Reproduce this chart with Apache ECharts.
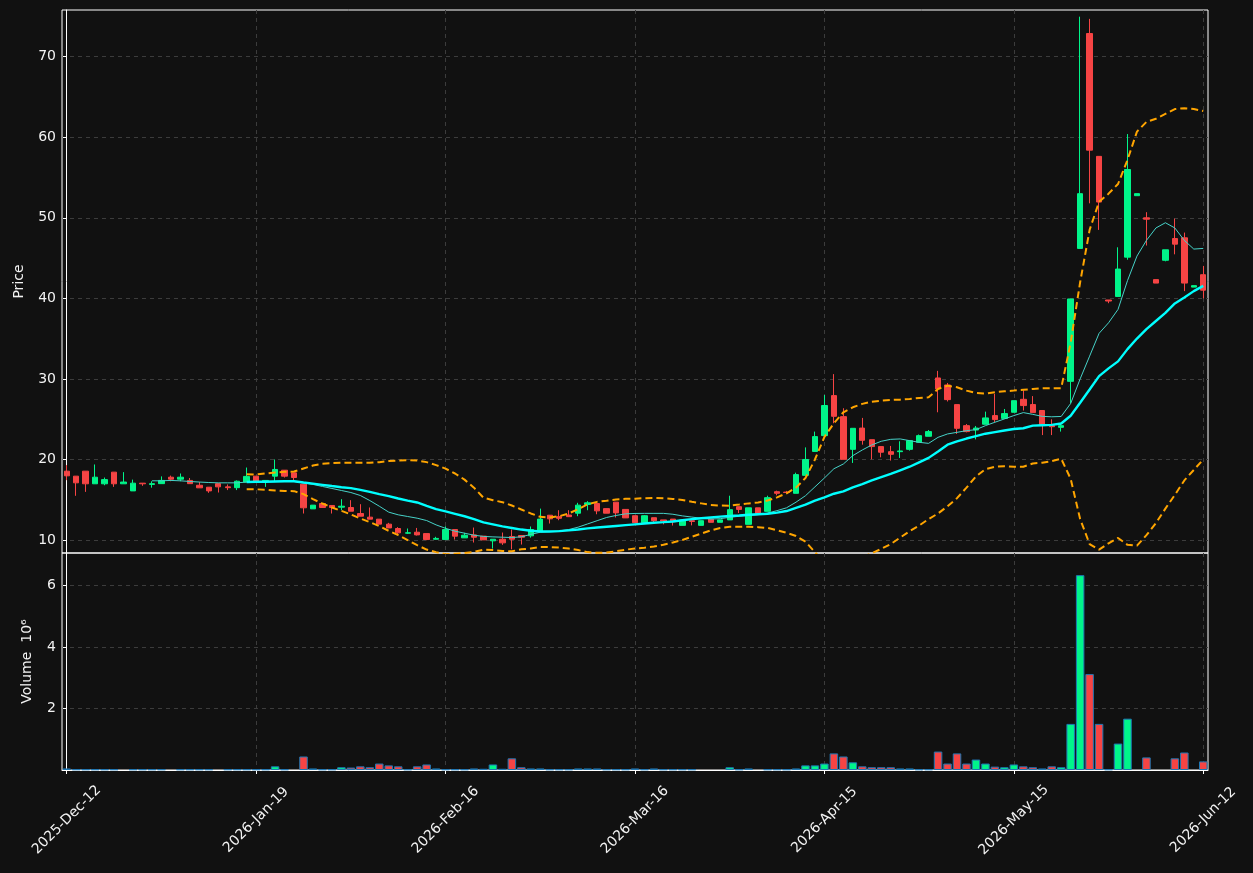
<!DOCTYPE html>
<html>
<head>
<meta charset="utf-8">
<script src="https://cdn.jsdelivr.net/npm/echarts@6/dist/echarts.min.js"></script>
<style>
html,body{margin:0;padding:0;background:#111111;}
#chart{width:1253px;height:873px;}
</style>
</head>
<body>
<div id="chart"></div>
<script>
const dates = [
"2025-Dec-12","2025-Dec-15","2025-Dec-16","2025-Dec-17","2025-Dec-18","2025-Dec-19","2025-Dec-22","2025-Dec-23","2025-Dec-26","2025-Dec-29",
"2025-Dec-30","2026-Jan-02","2026-Jan-05","2026-Jan-06","2026-Jan-07","2026-Jan-08","2026-Jan-12","2026-Jan-13","2026-Jan-14","2026-Jan-15",
"2026-Jan-19","2026-Jan-20","2026-Jan-21","2026-Jan-22","2026-Jan-23","2026-Jan-26","2026-Jan-27","2026-Jan-28","2026-Jan-29","2026-Jan-30",
"2026-Feb-02","2026-Feb-03","2026-Feb-04","2026-Feb-05","2026-Feb-06","2026-Feb-09","2026-Feb-10","2026-Feb-11","2026-Feb-12","2026-Feb-13",
"2026-Feb-16","2026-Feb-17","2026-Feb-18","2026-Feb-19","2026-Feb-20","2026-Feb-23","2026-Feb-24","2026-Feb-25","2026-Feb-26","2026-Feb-27",
"2026-Mar-02","2026-Mar-03","2026-Mar-04","2026-Mar-05","2026-Mar-06","2026-Mar-09","2026-Mar-10","2026-Mar-11","2026-Mar-12","2026-Mar-13",
"2026-Mar-16","2026-Mar-17","2026-Mar-18","2026-Mar-19","2026-Mar-20","2026-Mar-23","2026-Mar-24","2026-Mar-25","2026-Mar-26","2026-Mar-27",
"2026-Mar-30","2026-Mar-31","2026-Apr-01","2026-Apr-02","2026-Apr-07","2026-Apr-08","2026-Apr-09","2026-Apr-10","2026-Apr-13","2026-Apr-14",
"2026-Apr-15","2026-Apr-16","2026-Apr-17","2026-Apr-20","2026-Apr-21","2026-Apr-22","2026-Apr-23","2026-Apr-24","2026-Apr-27","2026-Apr-28",
"2026-Apr-29","2026-Apr-30","2026-May-04","2026-May-05","2026-May-06","2026-May-07","2026-May-11","2026-May-12","2026-May-13","2026-May-14",
"2026-May-15","2026-May-18","2026-May-19","2026-May-20","2026-May-21","2026-May-22","2026-May-25","2026-May-26","2026-May-27","2026-May-28",
"2026-May-29","2026-Jun-01","2026-Jun-02","2026-Jun-03","2026-Jun-04","2026-Jun-05","2026-Jun-08","2026-Jun-09","2026-Jun-10","2026-Jun-11",
"2026-Jun-12"
];

const opens = [
18.55,17.93,18.55,16.98,16.98,18.43,16.98,16.10,17.06,16.90,
17.00,17.80,17.55,17.40,16.80,16.56,17.00,16.60,16.50,17.20,
17.93,17.30,17.93,18.67,18.34,16.94,13.87,14.53,14.29,14.08,
14.04,13.29,12.84,12.59,11.97,11.43,10.85,10.97,10.80,10.10,
10.06,11.30,10.27,10.64,10.48,9.90,10.10,10.44,10.56,10.52,
11.10,13.08,12.90,13.10,13.33,14.41,14.53,13.90,14.70,13.80,
13.02,12.15,12.77,12.50,12.60,11.82,12.40,11.82,12.60,12.20,
12.50,14.14,11.95,14.00,13.56,16.00,15.95,15.80,18.03,21.00,
22.96,27.93,25.32,21.26,23.90,22.46,21.60,20.97,20.97,21.26,
22.13,22.88,30.12,29.25,26.81,24.20,23.66,24.37,25.45,25.10,
25.86,27.47,26.82,26.08,24.20,23.99,29.70,46.20,72.88,57.63,
39.80,40.24,45.12,52.75,50.00,42.33,44.73,47.43,47.52,41.40,
42.94
];
const closes = [
17.97,17.10,16.98,17.80,17.50,16.98,17.20,17.06,16.98,17.00,
17.40,17.55,17.80,17.00,16.48,16.10,16.60,16.50,17.30,17.90,
17.30,17.40,18.76,17.93,17.76,14.00,14.33,14.04,14.04,14.20,
13.58,12.96,12.59,11.97,11.50,10.89,10.90,10.64,10.06,10.20,
11.30,10.48,10.60,10.35,10.02,10.10,9.65,10.10,10.35,11.30,
12.60,12.63,12.70,12.90,14.33,14.62,13.62,13.33,13.37,12.75,
12.15,13.02,12.40,12.36,12.28,12.48,12.30,12.40,12.20,12.50,
13.77,13.80,14.00,13.27,15.26,15.80,15.90,18.12,20.00,22.84,
26.70,25.36,20.02,23.87,22.38,21.60,20.90,20.64,21.06,22.34,
22.96,23.46,28.76,27.43,23.87,23.46,23.90,25.16,24.95,25.70,
27.30,26.69,25.82,24.33,24.07,24.20,39.93,53.00,58.40,51.96,
39.67,43.64,56.00,53.00,49.83,41.90,46.03,46.73,41.90,41.58,
41.02
];
const lows = [
17.43,15.49,15.98,16.98,16.80,16.60,16.98,16.10,16.73,16.50,
17.00,17.30,17.30,17.00,16.48,15.86,15.90,16.20,16.20,17.20,
17.20,16.60,17.20,17.76,17.43,13.29,13.87,14.04,13.29,13.70,
13.58,12.96,12.59,11.97,11.50,10.70,10.77,10.56,9.98,10.06,
10.06,10.06,10.27,9.69,10.02,8.94,9.40,8.85,9.44,10.30,
11.10,12.05,12.46,12.90,12.96,13.70,13.20,13.33,12.80,12.75,
12.10,12.15,12.20,11.95,11.80,11.82,11.82,11.82,12.20,12.20,
12.50,13.35,11.95,13.27,13.56,15.55,15.80,15.80,18.03,21.00,
22.96,24.50,20.02,19.57,21.84,20.02,20.27,19.86,20.19,21.10,
22.13,22.88,25.86,27.20,23.17,23.37,22.50,24.37,24.60,25.10,
25.86,26.08,25.82,23.03,23.03,23.46,26.95,46.20,51.80,48.50,
39.40,40.24,44.80,52.75,46.56,41.90,44.60,45.47,40.90,41.40,
40.00
];
const highs = [
19.30,17.95,18.55,19.38,17.76,18.43,18.43,17.50,17.06,17.30,
17.90,18.00,18.26,17.70,17.20,16.56,17.00,16.90,17.40,19.00,
17.93,17.45,20.00,18.67,18.34,16.94,14.33,14.53,14.29,15.07,
14.95,14.45,14.04,12.59,12.13,11.60,11.43,11.50,10.80,10.40,
11.70,11.30,10.90,11.55,10.48,10.10,10.93,11.30,10.56,11.68,
13.90,13.08,13.70,13.70,14.62,14.83,14.53,13.90,14.70,13.80,
13.02,13.10,12.77,12.50,12.60,12.48,12.48,12.40,12.60,12.50,
15.50,14.14,14.00,14.00,15.50,16.13,16.10,18.36,21.50,23.46,
28.00,30.60,26.36,23.87,25.16,22.46,21.60,21.68,22.26,22.42,
23.10,23.66,31.00,29.50,26.81,24.40,24.16,25.94,28.14,26.27,
27.30,28.60,27.87,26.08,24.99,24.55,39.93,74.97,74.70,57.63,
39.80,46.34,60.40,53.00,50.70,42.33,46.03,49.90,48.17,41.58,
44.03
];
// volume in millions
const volumes = [
0.05,0.02,0.02,0.02,0.02,0.02,0,0.02,0.02,0.02,
0.02,0,0.02,0.02,0.02,0.02,0,0.02,0.02,0.02,
0.02,0.02,0.12,0.02,0,0.44,0.05,0.02,0.02,0.09,
0.08,0.12,0.09,0.21,0.15,0.12,0.02,0.12,0.18,0.05,
0.02,0.02,0.02,0.05,0.04,0.18,0.04,0.38,0.09,0.05,
0.05,0.02,0.02,0.02,0.05,0.05,0.05,0.02,0.02,0.02,
0.05,0.02,0.05,0.02,0.02,0.02,0.02,0,0,0,
0.09,0.02,0.05,0,0.02,0.02,0.02,0.05,0.15,0.15,
0.21,0.54,0.44,0.25,0.12,0.09,0.09,0.09,0.05,0.05,
0.02,0.02,0.60,0.21,0.54,0.21,0.34,0.21,0.11,0.09,
0.18,0.12,0.09,0.05,0.12,0.09,1.50,6.34,3.12,1.50,
0.02,0.86,1.67,0,0.41,0,0,0.38,0.57,0,
0.28
];
const sma10 = [
null,null,null,null,null,null,null,null,null,17.35,
17.35,17.40,17.35,17.27,17.20,17.14,17.10,17.10,17.10,17.20,
17.23,17.27,17.30,17.30,17.27,17.10,16.90,16.65,16.40,16.15,
15.90,15.53,14.90,14.20,13.46,13.13,12.92,12.71,12.42,11.88,
11.45,11.10,10.85,10.60,10.45,10.39,10.35,10.31,10.40,10.70,
10.97,11.05,11.14,11.30,11.60,12.00,12.40,12.80,13.05,13.25,
13.30,13.31,13.31,13.31,13.20,13.00,12.85,12.70,12.60,12.65,
12.82,12.95,13.05,13.15,13.35,13.65,14.00,14.70,15.50,16.60,
17.70,18.85,19.44,20.48,21.18,21.80,22.26,22.50,22.55,22.34,
22.13,22.00,22.75,23.17,23.37,23.58,23.70,24.20,24.62,25.03,
25.45,25.82,25.60,25.35,25.30,25.34,26.95,30.00,32.83,35.66,
36.97,38.63,42.20,45.25,47.20,48.74,49.39,48.74,47.20,46.12,
46.20
];
const sma20 = [
null,null,null,null,null,null,null,null,null,null,
null,null,null,null,null,null,null,null,null,17.20,
17.23,17.23,17.27,17.30,17.30,17.14,17.00,16.85,16.70,16.56,
16.44,16.23,15.98,15.70,15.45,15.16,14.90,14.66,14.24,13.83,
13.55,13.25,12.95,12.60,12.20,11.95,11.70,11.50,11.30,11.15,
11.06,11.06,11.10,11.20,11.30,11.45,11.55,11.65,11.75,11.85,
11.95,12.05,12.15,12.22,12.30,12.45,12.60,12.70,12.80,12.90,
12.98,13.05,13.13,13.20,13.27,13.40,13.60,14.00,14.40,14.90,
15.30,15.75,16.05,16.54,16.95,17.40,17.80,18.20,18.65,19.10,
19.65,20.20,21.00,21.84,22.25,22.60,22.90,23.20,23.40,23.60,
23.78,23.88,24.20,24.25,24.30,24.47,25.43,27.04,28.69,30.35,
31.31,32.18,33.70,35.01,36.19,37.19,38.19,39.37,40.11,40.90,
41.55
];
const bbUpper = [
null,null,null,null,null,null,null,null,null,null,
null,null,null,null,null,null,null,null,null,18.18,
18.14,18.26,18.39,18.47,18.50,18.88,19.25,19.46,19.54,19.59,
19.59,19.59,19.59,19.67,19.80,19.88,19.92,19.88,19.67,19.30,
18.86,18.26,17.50,16.50,15.25,14.95,14.70,14.29,13.79,13.30,
12.88,12.80,12.96,13.30,13.83,14.45,14.74,14.87,15.03,15.11,
15.14,15.20,15.22,15.18,15.10,14.98,14.75,14.55,14.35,14.28,
14.27,14.40,14.55,14.65,14.90,15.30,15.80,16.50,17.70,20.00,
22.80,24.50,25.86,26.48,26.90,27.18,27.30,27.39,27.43,27.52,
27.64,27.72,28.76,29.17,28.96,28.55,28.26,28.18,28.34,28.47,
28.55,28.65,28.75,28.85,28.85,28.85,34.50,42.00,48.50,52.00,
53.00,54.20,57.20,60.70,61.90,62.30,62.90,63.50,63.60,63.50,
63.25
];
const bbLower = [
null,null,null,null,null,null,null,null,null,null,
null,null,null,null,null,null,null,null,null,16.30,
16.30,16.23,16.15,16.10,16.07,15.70,15.07,14.53,14.04,13.62,
13.17,12.67,12.22,11.72,11.14,10.60,9.98,9.36,8.82,8.50,
8.25,8.30,8.40,8.53,8.80,8.75,8.65,8.60,8.85,8.95,
9.15,9.13,9.07,8.95,8.75,8.50,8.41,8.45,8.60,8.80,
8.95,9.05,9.20,9.42,9.70,10.00,10.40,10.80,11.20,11.50,
11.66,11.66,11.66,11.60,11.50,11.20,10.90,10.50,9.80,8.50,
7.20,6.60,6.80,7.40,7.90,8.35,8.90,9.50,10.30,11.10,
11.80,12.60,13.30,14.20,15.20,16.50,17.90,18.80,19.10,19.15,
19.10,19.10,19.50,19.60,19.80,20.10,17.60,12.60,9.50,8.80,
9.60,10.26,9.40,9.30,10.60,12.10,13.90,15.60,17.40,18.70,
20.00
];
const priceTicks = [10, 20, 30, 40, 50, 60, 70];
const volumeTicks = [2, 4, 6];
const dateTickIndices = [0, 20, 40, 60, 80, 100, 120];

const GREEN = '#00f58a';
const RED = '#f64444';
const FONT = 'DejaVu Sans';
const TXT = '#f2f2f2';
const GRIDLINE = { show: true, lineStyle: { color: '#3c3c3c', type: [4, 4], width: 1 } };

const ohlc = opens.map((o, i) => [o, closes[i], lows[i], highs[i]]);
const volData = volumes.map((v, i) => v > 0 ? { value: v, itemStyle: { color: closes[i] >= opens[i] ? GREEN : RED } } : null);

const chart = echarts.init(document.getElementById('chart'), null, { renderer: 'canvas' });
chart.setOption({
  backgroundColor: '#111111',
  animation: false,
  grid: [
    { left: 62, right: 45, top: 10, height: 543, show: true, borderColor: '#ffffff', borderWidth: 1 },
    { left: 62, right: 45, top: 553, height: 217, show: true, borderColor: '#ffffff', borderWidth: 1 }
  ],
  xAxis: [
    { gridIndex: 0, type: 'category', data: dates, boundaryGap: true, show: false },
    { gridIndex: 1, type: 'category', data: dates, boundaryGap: true, show: false },
    { gridIndex: 0, type: 'value', min: -0.5, max: dates.length - 0.5,
      axisLine: { show: false },
      axisTick: { show: false, customValues: dateTickIndices },
      axisLabel: { show: false, customValues: dateTickIndices },
      splitLine: GRIDLINE },
    { gridIndex: 1, type: 'value', min: -0.5, max: dates.length - 0.5, position: 'bottom',
      axisLine: { show: true, onZero: false, lineStyle: { color: '#ffffff' } },
      axisTick: { show: true, customValues: dateTickIndices, length: 4, lineStyle: { color: '#ffffff' } },
      axisLabel: { show: true, customValues: dateTickIndices, formatter: v => dates[Math.round(v)],
        rotate: 45, align: 'center', verticalAlign: 'middle', margin: 50,
        color: TXT, fontSize: 14, fontFamily: FONT },
      splitLine: GRIDLINE }
  ],
  yAxis: [
    { gridIndex: 0, type: 'value', min: 8.39, max: 75.8, position: 'left',
      axisLine: { show: true, lineStyle: { color: '#ffffff' } },
      axisTick: { show: true, customValues: priceTicks, length: 4, lineStyle: { color: '#ffffff' } },
      axisLabel: { customValues: priceTicks, color: TXT, fontSize: 14, fontFamily: FONT, margin: 6 },
      splitLine: GRIDLINE,
      name: 'Price', nameLocation: 'middle', nameRotate: 90, nameGap: 36,
      nameTextStyle: { color: TXT, fontSize: 14, fontFamily: FONT } },
    { gridIndex: 1, type: 'value', min: 0, max: 7.06, position: 'left',
      axisLine: { show: true, lineStyle: { color: '#ffffff' } },
      axisTick: { show: true, customValues: volumeTicks, length: 4, lineStyle: { color: '#ffffff' } },
      axisLabel: { customValues: volumeTicks, color: TXT, fontSize: 14, fontFamily: FONT, margin: 6 },
      splitLine: GRIDLINE,
      name: 'Volume  10\u2076', nameLocation: 'middle', nameRotate: 90, nameGap: 28,
      nameTextStyle: { color: TXT, fontSize: 14, fontFamily: FONT } }
  ],
  series: [
    { type: 'candlestick', xAxisIndex: 0, yAxisIndex: 0, data: ohlc, barWidth: '62%', z: 2,
      itemStyle: { color: GREEN, color0: RED, borderColor: GREEN, borderColor0: RED, borderColorDoji: GREEN, borderWidth: 1 } },
    { type: 'line', name: 'SMA10', xAxisIndex: 0, yAxisIndex: 0, data: sma10, showSymbol: false, z: 3,
      lineStyle: { color: '#46d2c8', width: 1 } },
    { type: 'line', name: 'SMA20', xAxisIndex: 0, yAxisIndex: 0, data: sma20, showSymbol: false, z: 4,
      lineStyle: { color: '#00ffff', width: 2.4 } },
    { type: 'line', name: 'BB Upper', xAxisIndex: 0, yAxisIndex: 0, data: bbUpper, showSymbol: false, z: 3,
      lineStyle: { color: '#ffa500', width: 2, type: [7, 4] } },
    { type: 'line', name: 'BB Lower', xAxisIndex: 0, yAxisIndex: 0, data: bbLower, showSymbol: false, z: 3,
      lineStyle: { color: '#ffa500', width: 2, type: [7, 4] } },
    { type: 'bar', name: 'Volume', xAxisIndex: 1, yAxisIndex: 1, data: volData, barWidth: '90%',
      itemStyle: { borderColor: '#1f77b4', borderWidth: 1 } }
  ]
});
</script>
</body>
</html>
